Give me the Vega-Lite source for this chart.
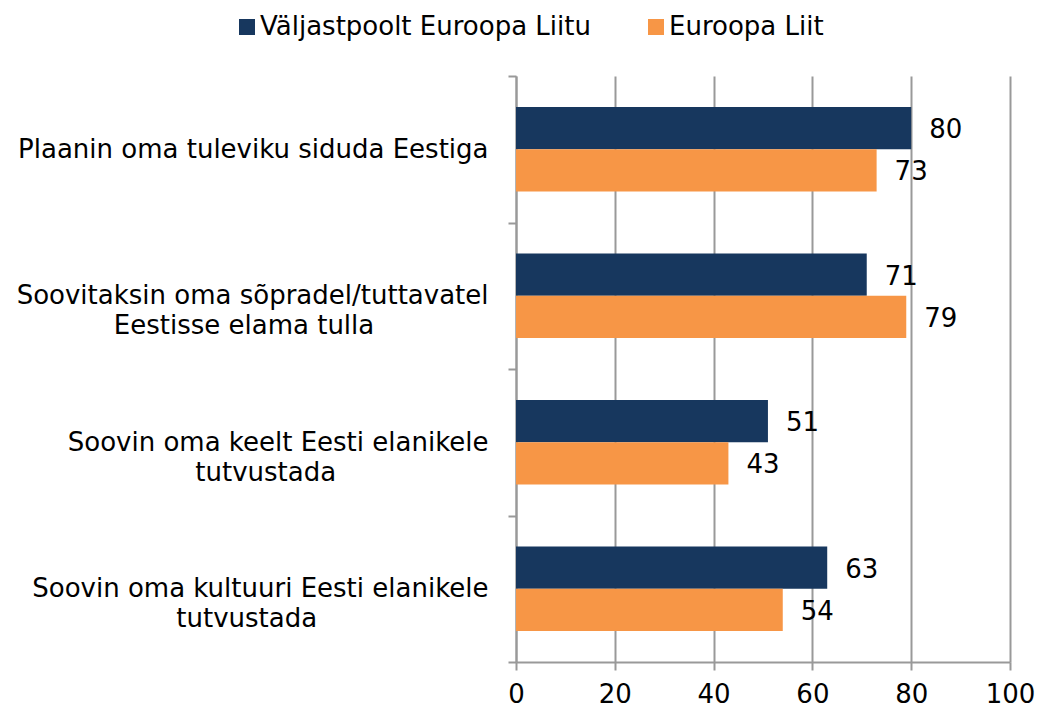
{
  "$schema": "https://vega.github.io/schema/vega-lite/v6.json",
  "width": 494,
  "height": 586,
  "autosize": "none",
  "padding": {"left": 516, "top": 76, "right": 28, "bottom": 45},
  "background": "white",
  "config": {"font": "DejaVu Sans", "view": {"stroke": null}},
  "data": {"values": [
    {"cat": "Plaanin oma tuleviku siduda Eestiga", "grp": "Väljastpoolt Euroopa Liitu", "v": 80},
    {"cat": "Plaanin oma tuleviku siduda Eestiga", "grp": "Euroopa Liit", "v": 73},
    {"cat": "Soovitaksin oma sõpradel/tuttavatel|Eestisse elama tulla", "grp": "Väljastpoolt Euroopa Liitu", "v": 71},
    {"cat": "Soovitaksin oma sõpradel/tuttavatel|Eestisse elama tulla", "grp": "Euroopa Liit", "v": 79},
    {"cat": "Soovin oma keelt Eesti elanikele|tutvustada", "grp": "Väljastpoolt Euroopa Liitu", "v": 51},
    {"cat": "Soovin oma keelt Eesti elanikele|tutvustada", "grp": "Euroopa Liit", "v": 43},
    {"cat": "Soovin oma kultuuri Eesti elanikele|tutvustada", "grp": "Väljastpoolt Euroopa Liitu", "v": 63},
    {"cat": "Soovin oma kultuuri Eesti elanikele|tutvustada", "grp": "Euroopa Liit", "v": 54}
  ]},
  "encoding": {
    "y": {
      "field": "cat", "type": "nominal", "sort": null,
      "scale": {"paddingInner": 0, "paddingOuter": 0},
      "axis": {
        "title": null, "tickBand": "extent", "tickSize": 8, "tickColor": "#999", "tickWidth": 2,
        "domainColor": "#999", "domainWidth": 2, "grid": false,
        "labelFontSize": 26, "labelColor": "#000", "labelPadding": 20, "labelLineHeight": 30,
        "labelAlign": "right", "labelBaseline": "middle", "labelLimit": 600,
        "labelExpr": "indexof(datum.label, '|') < 0 ? datum.label : [split(datum.label, '|')[0], pad(split(datum.label, '|')[1], length(split(datum.label, '|')[1]) + (indexof(datum.label, 'Soovitaksin') >= 0 ? 6 : indexof(datum.label, 'keelt') >= 0 ? 8 : 9), '\u2800')]"
      }
    },
    "yOffset": {
      "field": "grp", "type": "nominal",
      "sort": ["Väljastpoolt Euroopa Liitu", "Euroopa Liit"],
      "scale": {"paddingInner": 0, "paddingOuter": 0.738}
    },
    "x": {
      "field": "v", "type": "quantitative",
      "scale": {"domain": [0, 100]},
      "axis": {
        "title": null, "values": [0, 20, 40, 60, 80, 100], "tickSize": 8, "tickColor": "#999", "tickWidth": 2,
        "domainColor": "#999", "domainWidth": 2, "grid": true, "gridColor": "#999", "gridWidth": 2,
        "labelFontSize": 26, "labelColor": "#000", "labelPadding": 11, "labelFlush": false
      }
    }
  },
  "layer": [
    {
      "mark": {"type": "bar"},
      "encoding": {
        "color": {
          "field": "grp", "type": "nominal",
          "scale": {"domain": ["Väljastpoolt Euroopa Liitu", "Euroopa Liit"], "range": ["#17375E", "#F79646"]},
          "legend": {
            "orient": "none", "legendX": -282, "legendY": -62, "direction": "horizontal",
            "title": null, "symbolType": "square", "symbolSize": 256, "symbolStrokeWidth": 0,
            "labelFontSize": 26, "labelColor": "#000", "columnPadding": 52, "labelOffset": 0, "labelLimit": 600
          }
        }
      }
    },
    {
      "mark": {"type": "text", "align": "left", "baseline": "middle", "dx": 18, "dy": 2, "fontSize": 26, "color": "#000"},
      "encoding": {"text": {"field": "v", "type": "quantitative"}}
    }
  ]
}
